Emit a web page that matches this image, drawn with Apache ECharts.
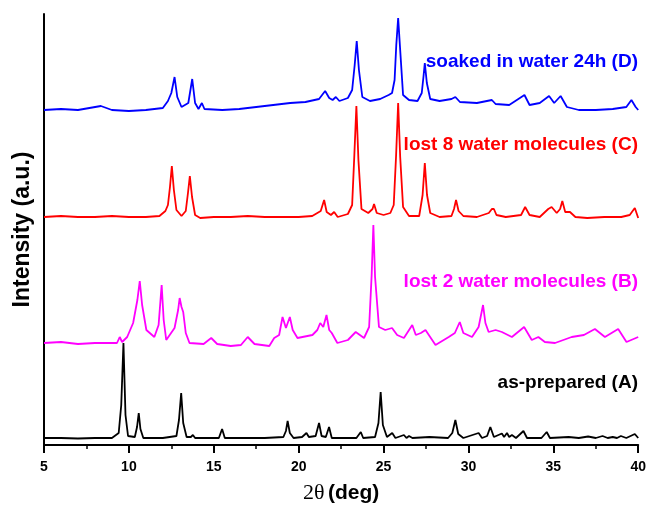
<!DOCTYPE html>
<html>
<head>
<meta charset="utf-8">
<script src="https://cdn.jsdelivr.net/npm/echarts@6/dist/echarts.min.js"></script>
<style>html,body{margin:0;padding:0;background:#fff}#c{width:649px;height:514px}</style>
</head>
<body>
<div id="c"></div>
<script>
const xTicks = [5, 10, 15, 20, 25, 30, 35, 40];
const seriesNames = ['as-prepared (A)', 'lost 2 water molecules (B)', 'lost 8 water molecules (C)', 'soaked in water 24h (D)'];
const seriesColors = ['#000000', '#ff00ff', '#ff0000', '#0000ff'];

const patternA = [[5,7],[6,7],[7,6.5],[8,7],[9,7],[9.4,12],[9.55,40],[9.68,102],[9.8,30],[9.95,9],[10.35,8],[10.48,18],[10.58,32],[10.68,16],[10.85,7],[12,7],[12.8,9],[12.95,25],[13.08,52],[13.2,22],[13.4,8],[13.65,8],[13.77,10],[13.9,7],[15.3,7],[15.49,16],[15.65,7],[17,7],[18,7],[19.1,8],[19.25,14],[19.35,24],[19.48,12],[19.7,7],[20.2,8],[20.46,12],[20.6,8],[21.0,9],[21.2,22],[21.35,9],[21.6,8],[21.79,18],[21.95,7],[23.4,7],[23.66,13],[23.8,7],[24.5,8],[24.7,22],[24.83,53],[24.96,20],[25.2,8],[25.51,12],[25.7,7],[26.2,10],[26.35,7],[26.5,9],[26.7,7],[27.7,8],[28.8,7],[29.05,12],[29.23,25],[29.4,11],[29.7,7],[30.6,12],[30.8,7],[31.1,9],[31.29,18],[31.5,8],[31.97,11.5],[32.1,8],[32.27,12],[32.4,8],[32.56,10],[32.8,7],[33.24,14],[33.45,7],[34.3,7],[34.61,13],[34.8,7],[35.9,8],[36.5,7],[37.05,8.5],[37.5,7],[37.9,9],[38.2,7],[38.5,8],[38.75,7],[38.98,9],[39.3,7],[39.8,11],[40,7]];

const patternB = [[5,102],[6,103],[7,101],[8,102],[9,102],[9.3,102],[9.46,108],[9.6,103],[9.9,108],[10.25,122],[10.5,145],[10.64,164],[10.78,140],[11.03,115],[11.5,108],[11.75,120],[11.93,160],[12.05,125],[12.2,105],[12.69,117],[12.9,135],[12.99,147],[13.1,138],[13.2,133],[13.35,112],[13.57,102],[14.4,101],[14.85,107],[15.2,101],[16,99],[16.6,100],[17.0,108],[17.4,101],[18.27,99],[18.56,107],[18.85,110],[19.05,128],[19.25,117],[19.48,128],[19.65,115],[19.93,107],[20.81,110],[21.1,115],[21.27,122],[21.45,118],[21.64,130],[21.8,115],[21.95,112],[22.28,102],[22.9,105],[23.36,113],[23.85,107],[24.15,118],[24.3,170],[24.4,220],[24.5,168],[24.73,118],[25.1,115],[25.5,117],[25.8,110],[26.2,107],[26.69,120],[26.9,110],[27.2,112],[27.47,115],[28.06,100],[28.84,108],[29.2,112],[29.49,123],[29.7,112],[30.21,108],[30.6,118],[30.86,140],[31.0,122],[31.19,113],[31.6,115],[31.97,113],[32.56,108],[33.28,118],[33.73,105],[34.12,108],[34.5,103],[35.1,102],[36.08,108],[36.8,110],[37.45,116],[38.04,108],[38.82,116],[39.31,103],[40,108]];

const patternC = [[5,228],[6,229],[7,228],[8,228],[9,229],[10,228],[11,228],[11.8,229],[12.15,234],[12.3,240],[12.42,258],[12.53,279],[12.65,255],[12.8,235],[13.1,229],[13.35,234],[13.48,252],[13.59,269],[13.72,248],[13.9,230],[14.2,227],[15,228],[16,228],[17,229],[18,228],[19,228],[20,228],[20.8,229],[21.3,234],[21.5,245],[21.65,233],[21.9,230],[22.09,233],[22.3,228],[22.9,231],[23.15,240],[23.28,290],[23.4,339],[23.52,285],[23.7,236],[24.1,232],[24.35,236],[24.44,241],[24.6,232],[25.0,230],[25.4,232],[25.6,240],[25.74,290],[25.86,342],[25.98,288],[26.15,238],[26.5,229],[27.1,229],[27.3,250],[27.43,282],[27.56,250],[27.75,232],[28.3,228],[29.0,229],[29.15,236],[29.27,245],[29.42,234],[29.7,229],[30.5,228],[31.2,232],[31.38,236],[31.5,236],[31.65,230],[32.2,228],[33.1,230],[33.34,238],[33.6,230],[34.2,228],[34.7,236],[34.9,238],[35.2,232],[35.4,236],[35.53,244],[35.7,233],[35.98,233],[36.3,228],[37,227],[38,228],[39.0,228],[39.5,230],[39.8,237],[40.0,227]];

const patternD = [[5.0,335],[6.0,336],[7.0,335],[8.35,339],[9.0,335],[10,334],[11,335],[12.0,337],[12.3,344],[12.5,352],[12.69,368],[12.85,348],[13.1,338],[13.5,342],[13.73,366],[13.9,342],[14.1,336],[14.3,342],[14.45,336],[15.5,335],[16.5,336],[17.5,338],[18.5,340],[19.5,342],[20.4,343],[21.2,346],[21.56,354],[21.8,347],[22.0,345],[22.19,348],[22.4,344],[22.9,347],[23.15,355],[23.3,380],[23.42,404],[23.55,375],[23.75,348],[24.2,344],[24.8,346],[25.3,350],[25.5,352],[25.65,365],[25.75,400],[25.86,427],[25.98,395],[26.15,350],[26.5,345],[27.0,344],[27.25,352],[27.35,368],[27.43,382],[27.55,362],[27.75,346],[28.3,344],[29.0,346],[29.23,348],[29.5,343],[30.5,342],[31.38,345],[31.6,341],[32.4,340],[33.3,350],[33.6,340],[34.2,342],[34.75,349],[35.05,342],[35.43,349],[35.8,338],[36.5,335],[37.5,335],[38.5,336],[39.3,338],[39.6,345],[39.85,338],[40.0,335]];

const patterns = [patternA, patternB, patternC, patternD];
const labelTops = [373, 272, 135, 52];

const chart = echarts.init(document.getElementById('c'), null, {renderer: 'canvas'});
const option = {
  animation: false,
  backgroundColor: '#fff',
  grid: {left: 44, right: 9, top: 14, bottom: 69},
  xAxis: {
    type: 'value', min: xTicks[0], max: xTicks[xTicks.length - 1], interval: 5,
    axisLine: {show: true, onZero: false, lineStyle: {color: '#000', width: 2}},
    axisTick: {show: true, inside: false, length: 8, lineStyle: {color: '#000', width: 2}},
    minorTick: {show: true, splitNumber: 2, length: 4, lineStyle: {color: '#000', width: 1.5}},
    splitLine: {show: false},
    axisLabel: {color: '#000', fontWeight: 'bold', fontSize: 14, fontFamily: 'Liberation Sans, Arial, sans-serif', margin: 15},
    name: '{a|2θ} {b|(deg)}',
    nameLocation: 'middle', nameGap: 37,
    nameTextStyle: {
      rich: {
        a: {fontFamily: 'Liberation Serif, Times New Roman, serif', fontSize: 22, color: '#000'},
        b: {fontFamily: 'Liberation Sans, Arial, sans-serif', fontWeight: 'bold', fontSize: 21, color: '#000'}
      }
    }
  },
  yAxis: {
    type: 'value', min: 0, max: 431,
    axisLine: {show: true, lineStyle: {color: '#000', width: 2}},
    axisTick: {show: false}, axisLabel: {show: false}, splitLine: {show: false},
    name: 'Intensity (a.u.)', nameLocation: 'middle', nameGap: 10,
    nameTextStyle: {fontFamily: 'Liberation Sans, Arial, sans-serif', fontWeight: 'bold', fontSize: 23, color: '#000'}
  },
  series: patterns.map((d, i) => ({
    name: seriesNames[i], type: 'line', data: d, showSymbol: false, symbol: 'none',
    lineStyle: {color: seriesColors[i], width: 1.8}, z: 2 + i
  })),
  graphic: seriesNames.map((n, i) => ({
    type: 'text', right: 11, top: labelTops[i],
    style: {text: n, fill: seriesColors[i], font: "bold 19px 'Liberation Sans', Arial, sans-serif"}
  }))
};
chart.setOption(option);
</script>
</body>
</html>
